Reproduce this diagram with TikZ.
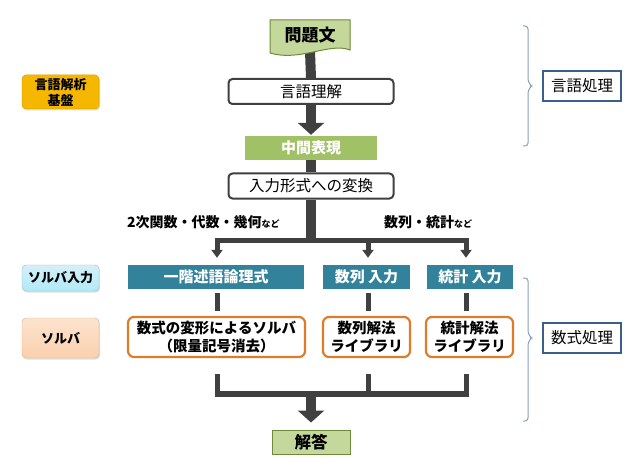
\documentclass[tikz,border=0pt]{standalone}
\usepackage{fontspec}
\setmainfont{Noto Sans CJK JP}
\usetikzlibrary{arrows.meta,backgrounds,shadows,calc}
\definecolor{lineg}{HTML}{404040}
\definecolor{lgreen}{HTML}{C5D89B}
\definecolor{dgreen}{HTML}{6F8B3A}
\definecolor{mgreen}{HTML}{A0C165}
\definecolor{teal}{HTML}{31829A}
\definecolor{orng}{HTML}{E07B28}
\definecolor{gold}{HTML}{F5B700}
\definecolor{lblue}{HTML}{C4E8F6}
\definecolor{lorange}{HTML}{FBD0AE}
\definecolor{brace}{HTML}{8A9FBE}
\definecolor{navy}{HTML}{3B5F8C}
\tikzset{
  x=1pt,y=-1pt,
  wbox/.style={draw=lineg,line width=2pt,fill=white,rounded corners=4pt,minimum width=165pt,minimum height=25pt,inner sep=0pt,font=\fontsize{15.5}{17}\selectfont},
  tealbox/.style={fill=teal,text=white,minimum height=24pt,inner sep=0pt,font=\fontsize{15}{17}\selectfont\bfseries},
  obox/.style={draw=orng,line width=2.2pt,fill=white,rounded corners=6pt,minimum height=40pt,inner sep=0pt,align=center,font=\fontsize{14.5}{18}\selectfont\bfseries},
  lbl/.style={rounded corners=4pt,minimum width=77pt,inner sep=0pt,align=center,font=\fontsize{13}{16}\selectfont\bfseries,drop shadow={opacity=0.25,shadow xshift=1pt,shadow yshift=-1.5pt}},
  rbox/.style={draw=navy,line width=1.3pt,fill=white,minimum width=78pt,minimum height=30pt,inner sep=0pt,font=\fontsize{15.5}{18}\selectfont},
  thick line/.style={draw=lineg,line width=10pt},
  mid line/.style={draw=lineg,line width=5pt},
  bigarrow/.style={draw=lineg,line width=10pt,-{Triangle[width=26pt,length=12pt]}},
  smallarrow/.style={draw=lineg,line width=5pt,-{Triangle[width=11pt,length=8pt]}},
  bracepath/.style={draw=brace,line width=1pt,rounded corners=3pt},
}
\begin{document}
\begin{tikzpicture}
\useasboundingbox (0,0) rectangle (640,468);

% problem statement (document shape)
\fill[lgreen,draw=dgreen,line width=1pt] (270,20) -- (350,20) -- (350,50)
  .. controls (330,42) and (300,62) .. (270,53) -- cycle;
\node[font=\fontsize{17}{19}\selectfont\bfseries,minimum height=32pt,minimum width=80pt,inner sep=0pt] (q) at (310,35) {問題文};

\node[wbox] (u) at (311,91.5) {言語理解};
\node[fill=mgreen,text=white,minimum width=132pt,minimum height=24pt,inner sep=0pt,font=\fontsize{15}{17}\selectfont\bfseries] (m) at (311,148) {中間表現};
\node[wbox] (c) at (311,186) {入力形式への変換};

\node[font=\fontsize{14}{16}\selectfont\bfseries,anchor=base west,inner sep=0pt] (l1) at (127,227) {2次関数・代数・幾何{\fontsize{9}{10}\selectfont など}};
\node[font=\fontsize{14}{16}\selectfont\bfseries,anchor=base west,inner sep=0pt] (l2) at (384,227) {数列・統計{\fontsize{9}{10}\selectfont など}};

\node[tealbox,minimum width=176pt] (s1) at (216,277) {一階述語論理式};
\node[tealbox,minimum width=87pt] (s2) at (366.5,277) {数列 入力};
\node[tealbox,minimum width=86pt] (s3) at (470,277) {統計 入力};

\node[obox,minimum width=177pt] (o1) at (216.5,337) {数式の変形によるソルバ\\（限量記号消去）};
\node[obox,minimum width=87pt] (o2) at (366.5,337) {数列解法\\ライブラリ};
\node[obox,minimum width=87pt] (o3) at (469.5,337) {統計解法\\ライブラリ};

\node[fill=lgreen,draw=dgreen,line width=1pt,minimum width=78pt,minimum height=24pt,inner sep=0pt,font=\fontsize{16.5}{18}\selectfont\bfseries] (a) at (311,442) {解答};

% left labels
\node[lbl,fill=gold,draw=gold!90!black,line width=0.5pt,minimum height=34pt] (k1) at (60.5,92) {言語解析\\基盤};
\node[lbl,top color=lblue!70!white,bottom color=lblue!90!cyan,draw=lblue!80!black,line width=0.4pt,minimum height=26pt] (k2) at (60.5,278) {ソルバ入力};
\node[lbl,top color=lorange!60!white,bottom color=lorange,draw=lorange!85!black,line width=0.4pt,minimum height=40pt] (k3) at (60.5,338) {ソルバ};

% right labels
\node[rbox] (r1) at (582,86) {言語処理};
\node[rbox] (r2) at (582,338) {数式処理};
\coordinate (br1) at (532,86);
\coordinate (br2) at (532,338);
\draw[bracepath] (523,26) -- (528,26) -- (528,82) -- (br1) -- (528,90) -- (528,146) -- (523,146);
\draw[bracepath] (523,278) -- (528,278) -- (528,334) -- (br2) -- (528,342) -- (528,421) -- (523,421);

% connectors
\coordinate (j1) at (311,240);
\coordinate (b1) at (217,240);
\coordinate (b2) at (368,240);
\coordinate (b3) at (466,240);
\coordinate (j2) at (311,394);
\coordinate (d1) at (217,394);
\coordinate (d2) at (368,394);
\coordinate (d3) at (466,394);
\begin{scope}[on background layer]
\fill[white] (0,0) rectangle (640,468);
\draw[thick line] (q.south) -- (u.north);
\draw[bigarrow,shorten >=1pt] (u.south) -- (m.north);
\draw[thick line] (m.south) -- (c.north);
\draw[thick line] (c.south) -- ($(j1)+(0,2.5)$);
\draw[mid line,line cap=rect] (b1) -- (b3);
\draw[smallarrow,shorten >=7pt] ($(b1)+(0,-2)$) -- (b1 |- s1.north);
\draw[smallarrow,shorten >=7pt] ($(b2)+(0,-2)$) -- (b2 |- s2.north);
\draw[smallarrow,shorten >=7pt] ($(b3)+(0,-2)$) -- (b3 |- s3.north);
\draw[mid line,shorten <=4pt,shorten >=5pt] (b1 |- s1.south) -- (b1 |- o1.north);
\draw[mid line,shorten <=4pt,shorten >=5pt] (b2 |- s2.south) -- (b2 |- o2.north);
\draw[mid line,shorten <=4pt,shorten >=5pt] (b3 |- s3.south) -- (b3 |- o3.north);
\draw[mid line,shorten <=16pt] (d1 |- o1.south) -- ($(d1)+(0,3)$);
\draw[mid line,shorten <=16pt] (d2 |- o2.south) -- ($(d2)+(0,3)$);
\draw[mid line,shorten <=16pt] (d3 |- o3.south) -- ($(d3)+(0,3)$);
\draw[draw=lineg,line width=6pt] ($(d1)+(-2.5,0)$) -- ($(d3)+(2.5,0)$);
\draw[bigarrow,shorten >=7pt] ($(j2)+(0,-3)$) -- (a.north);
\end{scope}
\end{tikzpicture}
\end{document}
